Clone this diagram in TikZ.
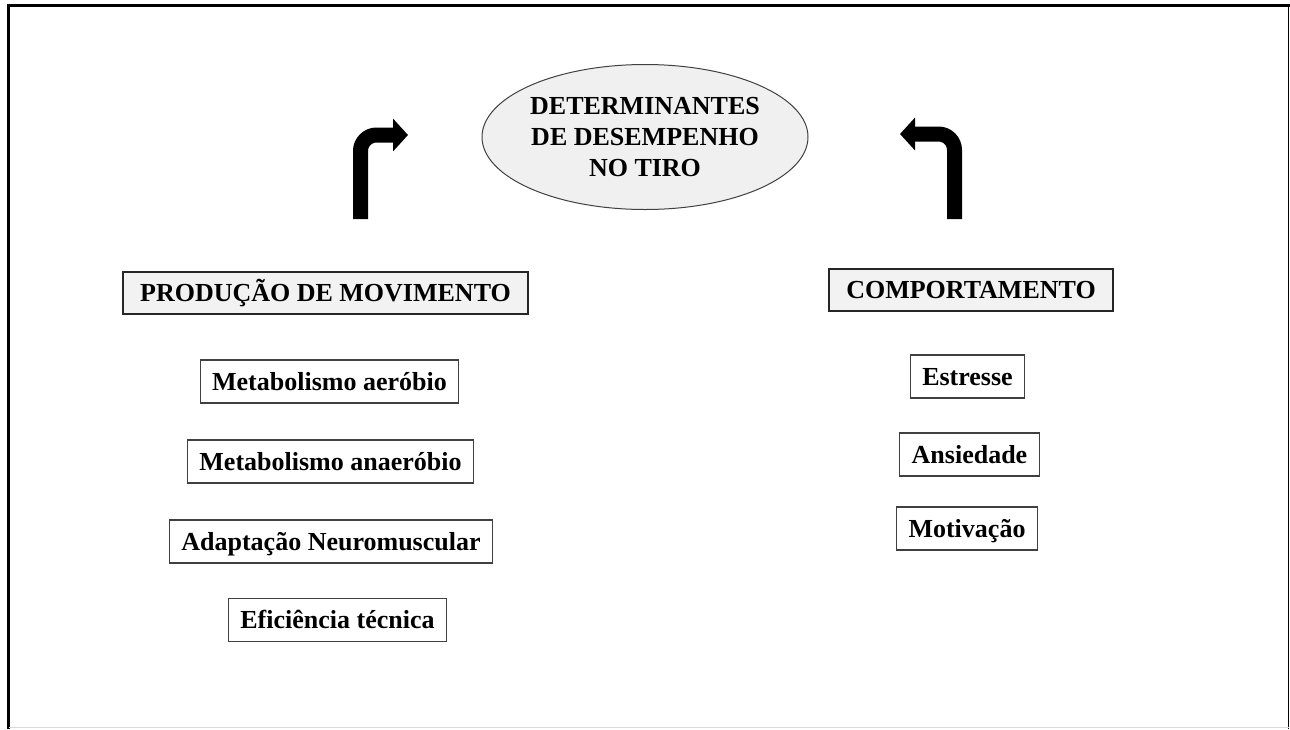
\documentclass[tikz,border=0pt]{standalone}
\usepackage{fontspec}
\setmainfont{Liberation Serif}
\usetikzlibrary{shapes.geometric, arrows.meta, positioning}
\tikzset{
    x=1pt, y=-1pt, % one unit is one pixel of the page, y grows downwards
    itembox/.style={draw=black!75, line width=1.3pt, fill=white, minimum height=43pt, inner xsep=12pt, text height=17.2pt, text depth=0pt, font=\fontsize{26}{30}\selectfont\bfseries}, % the small factor boxes
    headbox/.style={itembox, draw=black!85, line width=2pt, fill=black!5, minimum height=42pt, inner xsep=17pt}, % the two group titles
    turn/.style={line width=15pt, rounded corners=16pt, -{Triangle[length=15pt, width=32pt]}}, % the bent arrows
}
\begin{document}
\begin{tikzpicture}
    \useasboundingbox (0,0) rectangle (1290,729);
    % frame round the page
    \draw[line width=3pt] (8.5,729) -- (8.5,5) -- (1290,5);
    \draw[line width=1.5pt] (1288.5,5) -- (1288.5,729);
    \draw[black!15, line width=1pt] (8.5,727.5) -- (1288.5,727.5);
    % centre
    \node[ellipse, draw=black!75, line width=1pt, fill=black!6, minimum width=326pt, minimum height=145pt, inner sep=0pt, align=center, font=\fontsize{26}{31}\selectfont\bfseries] (det) at (645,137) {DETERMINANTES\\DE DESEMPENHO\\NO TIRO};
    % groups
    \node[headbox] (prod) at (325.5,292.5) {PRODUÇÃO DE MOVIMENTO};
    \node[headbox] (comp) at (971,290) {COMPORTAMENTO};
    \node[itembox] (aer) at (329.5,381.5) {Metabolismo aeróbio};
    \node[itembox] (anae) at (330.5,461.5) {Metabolismo anaeróbio};
    \node[itembox] (neuro) at (331,541.5) {Adaptação Neuromuscular};
    \node[itembox] (tec) at (337.5,620) {Eficiência técnica};
    \node[itembox] (stress) at (967.5,376.5) {Estresse};
    \node[itembox] (ans) at (969.5,454.5) {Ansiedade};
    \node[itembox] (mot) at (967,528.5) {Motivação};
    % arrows up to the centre
    \coordinate (la0) at (360.5,219);
    \coordinate (la1) at (408,135);
    \coordinate (ra0) at (954.5,219);
    \coordinate (ra1) at (900,134);
    \draw[turn] (la0) |- (la1);
    \draw[turn] (ra0) |- (ra1);
\end{tikzpicture}
\end{document}
